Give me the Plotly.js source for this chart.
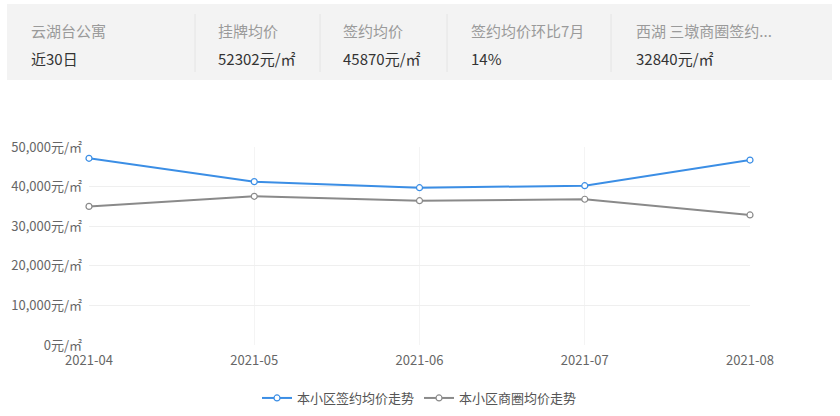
<!DOCTYPE html>
<html>
<head>
<meta charset="utf-8">
<script src="https://cdn.plot.ly/plotly-3.0.1.min.js"></script>
<style>
html,body{margin:0;padding:0;background:#fff;}
#chart{width:840px;height:416px;}
</style>
</head>
<body>
<div id="chart"></div>
<script>
const months = ["2021-04", "2021-05", "2021-06", "2021-07", "2021-08"];
const communityPrice = [47150, 41250, 39720, 40230, 46700];
const districtPrice = [35000, 37550, 36440, 36800, 32840];
const seriesNames = ["本小区签约均价走势", "本小区商圈均价走势"];
const headerTitles = ["云湖台公寓", "挂牌均价", "签约均价", "签约均价环比7月", "西湖 三墩商圈签约..."];
const headerValues = ["近30日", "52302元/㎡", "45870元/㎡", "14%", "32840元/㎡"];

const W = 840, H = 416;
const M = {l: 89, r: 90, t: 147, b: 71, autoexpand: false};
const pw = W - M.l - M.r, ph = H - M.t - M.b;
const px = x => (x - M.l) / pw;
const py = y => (H - M.b - y) / ph;

const font = '"Noto Sans CJK SC", "Noto Sans", sans-serif';

const shapes = [{
  type: 'rect', xref: 'paper', yref: 'paper',
  x0: px(7), x1: px(832), y0: py(80), y1: py(4),
  fillcolor: '#f3f3f3', line: {width: 0}, layer: 'below'
}];
const dividerX = [195, 320, 447, 611];
dividerX.forEach(x => shapes.push({
  type: 'line', xref: 'paper', yref: 'paper',
  x0: px(x), x1: px(x), y0: py(72), y1: py(14),
  line: {color: '#e4e4e4', width: 1}
}));

const colX = [29, 216, 341, 469, 634];
const annotations = [];
headerTitles.forEach((t, i) => {
  annotations.push({text: t, xref: 'paper', yref: 'paper', x: px(colX[i]), y: py(30),
    xanchor: 'left', yanchor: 'middle', showarrow: false,
    font: {family: font, size: 15, color: '#9a9a9a'}});
  annotations.push({text: headerValues[i], xref: 'paper', yref: 'paper', x: px(colX[i]), y: py(58),
    xanchor: 'left', yanchor: 'middle', showarrow: false,
    font: {family: font, size: 15, color: '#333333'}});
});

const traces = [
  {x: months, y: communityPrice, name: seriesNames[0], type: 'scatter', mode: 'lines+markers',
   cliponaxis: false,
   line: {color: '#3b8ee5', width: 2},
   marker: {symbol: 'circle', size: 6, color: '#ffffff', line: {color: '#3b8ee5', width: 1.2}}},
  {x: months, y: districtPrice, name: seriesNames[1], type: 'scatter', mode: 'lines+markers',
   cliponaxis: false,
   line: {color: '#8a8a8a', width: 2},
   marker: {symbol: 'circle', size: 6, color: '#ffffff', line: {color: '#8a8a8a', width: 1.2}}}
];

const layout = {
  width: W, height: H,
  margin: M,
  paper_bgcolor: '#ffffff', plot_bgcolor: '#ffffff',
  font: {family: font, size: 13, color: '#666'},
  showlegend: true,
  legend: {orientation: 'h', x: 0.5, xanchor: 'center', y: py(398), yanchor: 'middle',
    font: {family: font, size: 13, color: '#555'}, traceorder: 'normal'},
  xaxis: {type: 'category', range: [0, 4], showgrid: true, gridcolor: '#f4f4f4',
    zeroline: false, showline: false, ticks: '', ticklabelstandoff: 6,
    tickfont: {family: font, size: 13, color: '#666'}},
  yaxis: {range: [0, 50000], dtick: 10000, tickformat: ',d', ticksuffix: '元/㎡',
    showgrid: true, gridcolor: '#efefef', zeroline: false, showline: false, ticks: '',
    ticklabelstandoff: 6,
    tickfont: {family: font, size: 13, color: '#666'}},
  separators: '.,',
  shapes: shapes,
  annotations: annotations
};

Plotly.newPlot('chart', traces, layout, {displayModeBar: false, staticPlot: true});
</script>
</body>
</html>
